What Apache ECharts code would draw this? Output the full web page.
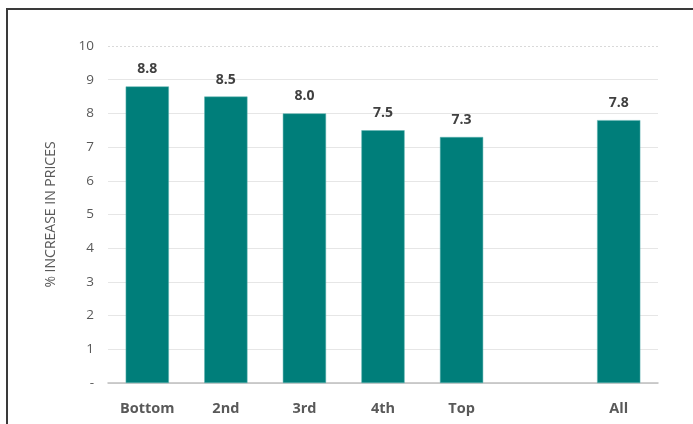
<!DOCTYPE html>
<html>
<head>
<meta charset="utf-8">
<script src="https://cdn.jsdelivr.net/npm/echarts@6/dist/echarts.min.js"></script>
<style>
html,body{margin:0;padding:0;background:#fff;}
#chart{width:693px;height:424px;}
</style>
</head>
<body>
<div id="chart"></div>
<script>
const categories = ['Bottom', '2nd', '3rd', '4th', 'Top', '', 'All'];
const values = [8.8, 8.5, 8.0, 7.5, 7.3, null, 7.8];
const yTicks = ['-', '1', '2', '3', '4', '5', '6', '7', '8', '9', '10'];

const chart = echarts.init(document.getElementById('chart'));
const font = '"Open Sans", "Noto Sans", sans-serif';
chart.setOption({
  animation: false,
  grid: { left: 108, right: 35, top: 46, bottom: 41 },
  graphic: [{
    type: 'rect',
    shape: { x: 7, y: 9, width: 720, height: 440 },
    style: { fill: 'none', stroke: '#3a3a3a', lineWidth: 2 },
    silent: true
  }],
  xAxis: {
    type: 'category',
    data: categories,
    axisLine: { lineStyle: { color: '#bfbfbf', width: 1.5 } },
    axisTick: { show: false },
    axisLabel: { color: '#595959', fontWeight: 'bold', fontSize: 14.5, fontFamily: font, margin: 18 }
  },
  yAxis: {
    type: 'value',
    min: 0, max: 10, interval: 1,
    name: '% INCREASE IN PRICES',
    nameLocation: 'middle',
    nameGap: 50,
    nameTextStyle: { color: '#595959', fontSize: 14, fontFamily: font },
    axisLine: { show: false },
    axisTick: { show: false },
    axisLabel: {
      color: '#595959', fontSize: 13.5, fontFamily: font, margin: 14,
      formatter: function (v) { return yTicks[Math.round(v)]; }
    },
    splitLine: { lineStyle: { color: ['#e6e6e6','#e6e6e6','#e6e6e6','#e6e6e6','#e6e6e6','#e6e6e6','#e6e6e6','#e6e6e6','#e6e6e6','#e6e6e6','rgba(0,0,0,0)'], width: 1 } }
  },
  series: [{
    type: 'bar',
    data: values,
    barWidth: '55%',
    itemStyle: { color: '#007e7a', borderColor: '#5fb5b2', borderWidth: 0.5 },
    label: {
      show: true, position: 'top', distance: 10,
      color: '#404040', fontWeight: 'bold', fontSize: 14, fontFamily: font,
      formatter: function (p) { return p.value.toFixed(1); }
    },
    markLine: {
      silent: true, symbol: 'none', label: { show: false },
      lineStyle: { color: '#d9d9d9', type: [2, 2], width: 1 },
      data: [{ yAxis: 10 }]
    }
  }]
});
</script>
</body>
</html>
